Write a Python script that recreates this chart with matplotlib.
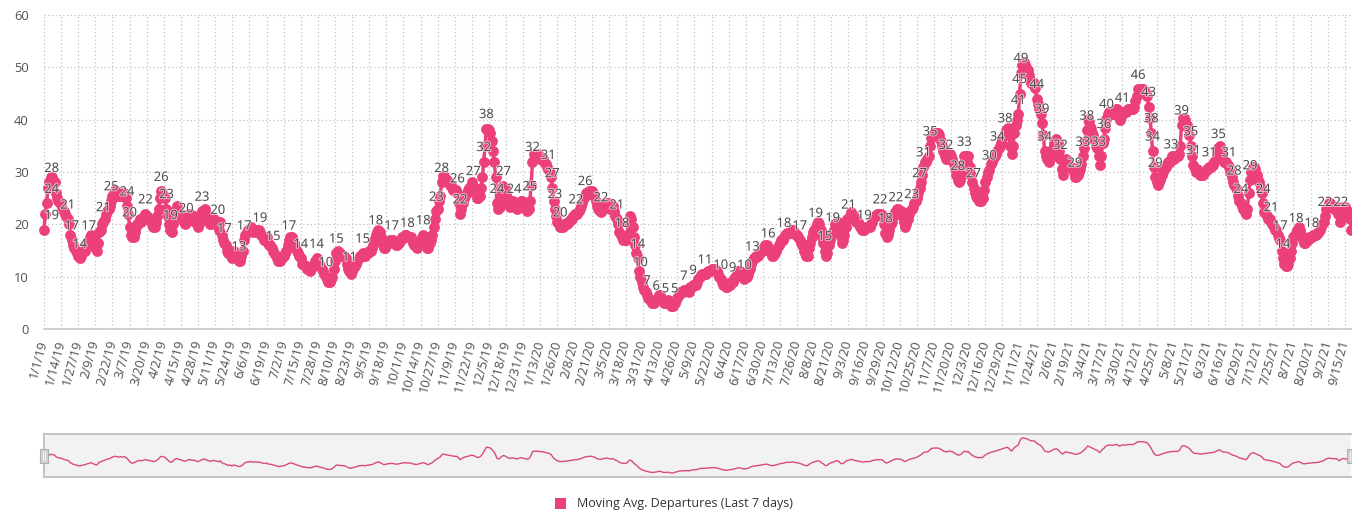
import numpy as np
import pandas as pd
import matplotlib
matplotlib.use("Agg")
import matplotlib.pyplot as plt
from matplotlib.patches import Rectangle
import matplotlib.patheffects as pe

plt.rcParams['font.family'] = ['Open Sans', 'DejaVu Sans']

start_date = '2019-01-01'
series_name = 'Moving Avg. Departures (Last 7 days)'
y_ticks = [0, 10, 20, 30, 40, 50, 60]
tick_every = 13

dep_2019 = [
    19, 22, 24, 27, 28, 29, 29, 28.5, 28, 26, 25, 24.5, 24,
    24, 23, 22.5, 22, 21.5, 21, 20, 18, 17, 16, 15.5, 15, 14.5,
    14, 13.5, 14, 14.5, 15, 15, 16, 16.5, 17, 17.5, 18, 17, 16,
    15.5, 15, 16.5, 18.5, 19, 20, 20.5, 21, 22, 22.5, 23, 23.5, 24.5,
    25.5, 26, 26.5, 26, 25.5, 25.5, 26, 25.5, 25.5, 26, 25, 23.5, 22,
    19.5, 18, 17.5, 17.5, 18.5, 19.5, 20, 20.5, 21, 20.5, 21, 21.5, 22,
    21.5, 21, 21, 20.5, 20, 19.5, 19.5, 20.5, 21.5, 23, 25, 26.3, 26,
    25.5, 25, 23, 21.5, 20, 19, 18.5, 20, 22, 23, 23.5, 22.5, 22,
    22, 21, 20.5, 20, 20.3, 21.5, 22, 22, 21.5, 21, 21.5, 20.5, 20,
    19.5, 20, 21, 22.5, 22, 23, 22, 21, 20.5, 20, 20, 20.5, 21,
    20.5, 20, 20, 19, 20.5, 18, 17, 16.5, 16, 15, 14.5, 15, 14,
    13.5, 15, 14.5, 14, 13.5, 13, 13, 14, 15, 17, 18, 18.5, 19,
    19, 19.5, 19, 18.5, 19, 19, 18.5, 19, 18.5, 18, 17.5, 17, 17,
    17.5, 16.5, 16, 16, 15.5, 15, 14.5, 14, 13.5, 13, 13, 13.5, 13.5,
    14, 14.5, 15, 16, 17, 17.5, 17.5, 17, 16.5, 15.5, 15, 14.5, 14,
    13.5, 12.5, 12.5, 12, 12, 11.5, 11.5, 11, 11.5, 12, 12.5, 13, 13.5,
    13, 12.5, 12, 11.5, 11, 10.5, 10, 9.5, 9, 9, 9.5, 10, 11.5,
    13, 14.5, 15, 14.5, 14.5, 14, 14, 14, 13.5, 12.5, 11.5, 11, 10.5,
    11, 11.5, 12, 12.5, 13, 13.5, 14, 14, 14.5, 14, 14, 14.5, 14.5,
    15, 15, 15.5, 16, 17, 18, 18.5, 19, 18.5, 17.5, 16.5, 15.5, 15.5,
    16, 16.5, 16.5, 17, 17, 17, 16.5, 16, 16, 16.5, 16.5, 17, 17.5,
    17.5, 18, 18, 17.5, 17.5, 17.5, 17.5, 16.5, 16, 16, 15.5, 16, 16.5,
    17, 17.5, 18, 17.5, 17, 15.5, 15.4, 16.5, 17, 18, 19.5, 21, 22.5,
    23, 24.5, 25.5, 28, 29.3, 29.3, 28.5, 28.5, 28, 27.5, 27.5, 27, 26.5,
    26.5, 26.5, 26, 24, 22, 23, 24, 25, 25.5, 26, 26.5, 27, 27.4,
    28, 27.4, 27, 26, 25, 25, 25.5, 27, 29, 32, 35, 38.3, 38.3,
    38, 37.5, 36, 34, 32, 29, 24, 23, 23.4, 25, 26.5, 27.4, 27,
    26, 25, 24, 23.4, 24, 24.4, 24, 23.4, 23, 23.2, 24, 24.4, 24.4,
    24,
]

dep_2020 = [
    23.4, 23, 22.5, 23, 24.5, 27.5, 32, 33.4, 33, 33, 33.4, 33,
    32.5, 32.5, 32.5, 32, 31.5, 31, 30.5, 30, 29, 27, 24.5, 23, 21.5,
    20.5, 20, 19.5, 19.4, 19.4, 20, 20, 20, 20.5, 20.5, 21, 21, 21.5,
    22, 22, 22, 22.5, 23, 23.5, 24, 25, 25.5, 26, 26, 26.4, 26.4,
    26.4, 26, 25.5, 24.5, 23.5, 23, 22.5, 22.4, 23, 23.5, 23.5, 24, 24,
    23.5, 23, 23, 23.5, 22.5, 21.5, 21, 20, 18.5, 18, 17.5, 17, 17,
    17, 18, 20, 21.5, 21, 19.5, 17.5, 16, 14.5, 13.5, 11, 10, 9,
    8, 7.5, 7, 6.5, 6, 5.5, 5.5, 5, 5, 5.5, 5.5, 6, 6.5,
    6.5, 6, 5.5, 5, 5, 5, 5.5, 5, 4.4, 4.4, 4.4, 5, 5.5,
    6, 6.5, 7, 7, 7, 7.4, 7.4, 7.4, 7.4, 7, 8, 8, 8.5,
    8.5, 8.5, 9, 9.5, 10, 10.4, 10.5, 10.5, 10.5, 10.5, 11, 11, 11,
    11.4, 11.4, 11.4, 11.4, 11, 10.5, 10, 9.5, 9, 8.5, 8.4, 8, 8,
    8.5, 8.5, 9, 9, 9.5, 10, 10.5, 11, 11, 11, 10.5, 10, 9.5,
    10, 10, 10.5, 11.5, 12.5, 13, 13.5, 13.5, 14, 14, 14.5, 14.5, 15,
    15.5, 15.5, 16, 16, 15.5, 15, 14.5, 14, 14, 14.5, 15, 15.5, 16,
    16.5, 17, 17, 17.5, 18, 18.4, 18.4, 18.4, 18.4, 19, 19, 18.5, 18,
    18, 17.5, 17, 16.5, 16, 15, 14.5, 14, 14, 15.5, 16.5, 17.5, 18.5,
    19, 19.4, 20, 20.5, 20, 19, 17.5, 16.5, 15, 14, 14.5, 16, 17,
    18, 18.5, 19, 20, 20.5, 20.5, 19.5, 17.5, 16.5, 17, 18, 19.5, 21,
    21, 21.5, 22.4, 22, 21.5, 21, 20.5, 20.5, 20, 19.5, 19, 19, 19,
    19.4, 19.4, 19.4, 19.4, 20, 20.5, 21, 21.5, 21.5, 22, 22, 22, 22,
    21.5, 20, 18.4, 17.5, 18, 19, 20, 20.5, 21.5, 22.4, 22.4, 23, 23,
    22.5, 22.5, 21.5, 20.5, 19.5, 20, 21, 22, 22.5, 23, 23.4, 24, 24.5,
    25, 26, 27, 28, 29.5, 31, 32, 32, 32.5, 33, 35, 36.5, 37,
    37.4, 37.4, 37.4, 37.4, 37, 36, 35, 34, 33, 32.4, 32.4, 33, 33.4,
    33, 32.5, 31.5, 30.5, 29.5, 28.4, 28, 28.5, 29.5, 31.5, 33, 33, 32,
    33, 31, 29.5, 28, 27, 26, 25.4, 25, 24.5, 25, 24.5, 25, 26.5,
    28, 29, 30, 30.4, 31.5, 32, 32.5, 33, 33.5, 34, 34.5, 35, 35.5,
    36.5, 37, 37.5,
]

dep_2021 = [
    38, 38.4, 37, 35, 33.4, 35, 37.5, 39, 40, 41,
    45, 49, 50.5, 51, 50.5, 50, 49.5, 48.5, 47.5, 47, 47, 47, 46,
    44, 43, 42, 41, 39.3, 37, 34, 33, 32.5, 32, 32.5, 33.5, 34.5,
    35.5, 36, 36.4, 35.5, 34, 32.4, 30.5, 29.5, 31, 32.4, 32, 31.5, 31,
    31, 30.5, 30, 29, 29, 29.5, 30, 30.5, 31.5, 33, 34.5, 36, 38,
    40.2, 39.5, 38.5, 37.5, 37, 36, 35, 34.5, 33, 31.4, 33, 35.5, 36.4,
    38.5, 40.2, 41, 41.4, 41.4, 41, 41, 41.4, 42, 42, 41, 40, 40.5,
    41.4, 41.4, 41.4, 41.4, 42, 42, 42, 42, 42, 42.5, 43.5, 44.5, 45.8,
    45.8, 45.8, 45.8, 45.8, 45.4, 45, 44.5, 42.5, 40.4, 37.5, 34, 31, 29,
    28, 27.5, 28, 28.5, 29.5, 30, 30.5, 31, 31.5, 32, 32, 32.5, 33,
    32.5, 33, 33, 33, 33.5, 35, 39, 40.4, 40.4, 40, 39, 38.5, 37,
    35, 33, 31.4, 30.5, 30, 30.5, 30, 29.5, 29.5, 29.5, 30, 30, 30.5,
    30.5, 31, 31, 31.4, 31.4, 32, 32.5, 33.5, 34.5, 35, 34, 33, 32,
    32, 32, 31.4, 31, 30, 29, 28, 27.5, 27, 26.5, 25.5, 24.5, 24,
    23.5, 23, 22.4, 22, 23, 26, 28.5, 30, 31, 31, 30.5, 29.5, 28.5,
    28, 27, 26, 24, 22.4, 22, 21.5, 21, 21, 20.5, 20, 19.5, 19,
    19, 18, 17.4, 17, 15, 13.5, 12.4, 12, 12, 12.5, 13.5, 15, 16.5,
    17.5, 18, 18.4, 19, 19.4, 19, 18, 17, 16.5, 16.5, 17, 17, 17.5,
    17.5, 17.5, 18, 18, 18, 18.4, 18.4, 19, 19.5, 20, 20.5, 21.5, 23,
    23.4, 24, 24, 23.4, 23.4, 23, 23.4, 23.4, 22, 20.5, 21.5, 23, 23.4,
    23.4, 23, 22.5, 22, 21, 19,
]

values = np.array(dep_2019 + dep_2020 + dep_2021, dtype=float)
n = len(values)
dates = pd.date_range(start_date, periods=n, freq='D')
date_labels = [f"{d.month}/{d.day}/{d.year % 100}" for d in dates]
x = np.arange(n)

W, H = 1352, 512
PINK = '#ec407a'
fig = plt.figure(figsize=(W / 100, H / 100), dpi=100)


def fx(px):
    return px / W


def fy(py):
    return 1 - py / H


# ---- main plot ----
L, R, T, B = 44, 1352, 15, 329
px_per_day = 1.3166
ax = fig.add_axes([fx(L), fy(B), (R - L) / W, (B - T) / H])
ax.set_xlim(0, (R - L) / px_per_day)
ax.set_ylim(0, 60)
ax.set_yticks(y_ticks)
ax.set_xticks(x[::tick_every])
ax.set_xticklabels(date_labels[::tick_every], rotation=75, ha='right',
                   va='center', rotation_mode='anchor', fontsize=9.3, color='#505050')
ax.tick_params(axis='x', length=0, pad=8)
ax.tick_params(axis='y', length=0, pad=11, labelsize=9.3, labelcolor='#505050')
ax.grid(True, linestyle=(0, (1, 2)), color='#c2c2c2', lw=0.9)
ax.set_axisbelow(True)
for s in ['top', 'right', 'left']:
    ax.spines[s].set_visible(False)
ax.spines['bottom'].set_color('#c8c8c8')
ax.spines['bottom'].set_linewidth(1.2)

ax.plot(x, values, color=PINK, lw=2.5, marker='o', ms=7.8, mew=0,
        clip_on=False, zorder=3)

# data labels with overlap hiding (greedy, left to right)
disp = ax.transData.transform(np.column_stack([x, values]))
bb = ax.get_window_extent()
accepted = []
for i in range(n):
    if disp[i, 0] > W + 5:
        continue
    txt = str(int(np.floor(values[i] + 0.5)))
    w = 7.4 * len(txt) + 0.5
    h = 17
    cx, cy = disp[i, 0], disp[i, 1] + 14
    if cx - w / 2 < bb.x0:
        cx = bb.x0 + w / 2
    box = (cx - w / 2, cy - h / 2, cx + w / 2, cy + h / 2)
    ok = True
    for b in accepted[-40:]:
        if box[0] < b[2] and box[2] > b[0] and box[1] < b[3] and box[3] > b[1]:
            ok = False
            break
    if not ok:
        continue
    accepted.append(box)
    ax.annotate(txt, xy=(x[i], values[i]),
                xytext=((cx - disp[i, 0]) * 0.72, 14 * 0.72),
                textcoords='offset points', ha='center', va='center',
                fontsize=9.3, color='#4a4a4a', zorder=5, annotation_clip=False,
                path_effects=[pe.withStroke(linewidth=1.5, foreground='white', alpha=0.6)])

# ---- navigator ----
NL, NR, NT, NB = 44, 1351, 434, 477
nav = fig.add_axes([fx(NL), fy(NB), (NR - NL) / W, (NB - NT) / H])
nav.set_facecolor('#f2f2f2')
nav.plot(x, values, color='#d94a80', lw=1)
nav.set_xlim(0, n - 1)
nav.set_ylim(-1, 56)
nav.set_xticks([])
nav.set_yticks([])
for s in ['top', 'bottom', 'left']:
    nav.spines[s].set_color('#c4c4c4')
    nav.spines[s].set_linewidth(1.5)
nav.spines['right'].set_visible(False)

for hx in (40, 1347):
    fig.add_artist(Rectangle((fx(hx), fy(463)), 8 / W, 14 / H, transform=fig.transFigure,
                             facecolor='#d0d0d0', edgecolor='#b0b0b0', lw=0.8))
    for lx in (hx + 3, hx + 5):
        fig.add_artist(plt.Line2D([fx(lx), fx(lx)], [fy(460), fy(452)],
                                  transform=fig.transFigure, color='#f2f2f2', lw=0.8))

# ---- legend ----
fig.add_artist(Rectangle((fx(555), fy(509)), 11 / W, 11 / H, transform=fig.transFigure,
                         facecolor=PINK, edgecolor='none'))
fig.text(fx(577), fy(503), series_name, ha='left', va='center', fontsize=9, color='#333333')

fig.savefig('out.png', dpi=100)
